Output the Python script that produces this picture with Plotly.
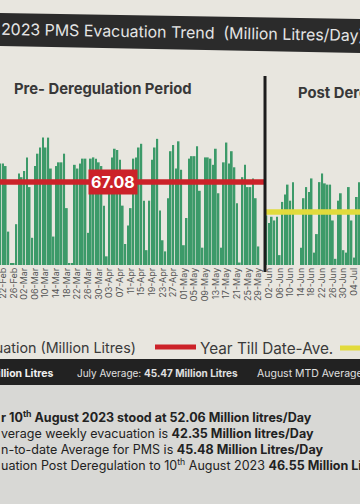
import plotly.graph_objects as go
import pandas as pd

W, H = 360, 504
PLOT_TOP, PLOT_BOT = 77, 265

# ---------------- data ----------------
start_date = "2023-02-21"
daily_evacuation = [
    82, 82, 80, 27, 1, 1, 33, 74, 71, 76, 87, 63, 22, 80, 90, 95, 103, 95, 103, 78,
    23, 80, 83, 83, 90, 46, 1, 1, 81, 78, 82, 86, 86, 26,
    86, 87, 86, 83, 80, 48, 7, 75, 87, 94, 93, 85, 48, 17, 32, 46, 86, 87, 95, 98,
    52, 12, 52, 85, 95, 102, 44, 20, 11, 54, 92, 97, 78, 100,
    77, 16, 38, 86, 88, 88, 96, 60, 14, 87, 87, 86, 81, 94, 58, 14, 83, 99, 82, 92,
    79, 50, 2, 71, 81, 63, 63, 70, 54, 15, 0, 0, 40, 34,
    39, 36, 39, 8, 51, 57, 65, 52, 67, 0, 0, 14, 54, 63, 59, 70, 10, 25, 67, 74,
    66, 65, 65, 36, 5, 52, 58, 12, 10, 63, 36, 6, 55, 67,
]
dates = pd.date_range(start_date, periods=len(daily_evacuation), freq="D")

ytd_avg = 67.08
ytd_label = "67.08"
post_avg = 42.8
deregulation_date = "2023-05-31 12:00"
x_start = "2023-02-20 21:00"
x_end = "2023-07-06 05:00"
label_date = "2023-04-04 08:00"
tick_start = "2023-02-22"

title_text = "2023 PMS Evacuation Trend  (Million Litres/Day)"
pre_text = "Pre- Deregulation Period"
post_text = "Post Deregulation Period"
legend_bar_text = "Evacuation (Million Litres)"
legend_red_text = "Year Till Date-Ave."
band_texts = ["<b>Million Litres</b>", "July Average: <b>45.47 Million Litres</b>", "August MTD Average:"]
note_lines = [
    "<b>r 10<sup>th</sup> August 2023 stood at 52.06 Million litres/Day</b>",
    "verage weekly evacuation is <b>42.35 Million litres/Day</b>",
    "n-to-date Average for PMS is <b>45.48 Million Litres/Day</b>",
    "uation Post Deregulation to 10<sup>th</sup> August 2023 <b>46.55 Million Litres/Day</b>",
]

GREEN = "#3c9a69"
RED = "#cc2229"
YELLOW = "#e2db3c"
FONT = "Inter"


def px(x):
    return x / W


def py(y):
    return (PLOT_BOT - y) / (PLOT_BOT - PLOT_TOP)


fig = go.Figure()
fig.add_bar(x=dates, y=daily_evacuation, marker_color=GREEN, marker_line_width=0,
            hoverinfo="skip")
fig.add_scatter(x=[x_start, deregulation_date], y=[ytd_avg, ytd_avg], mode="lines",
                line=dict(color=RED, width=5.5), hoverinfo="skip")
fig.add_scatter(x=[deregulation_date, x_end], y=[post_avg, post_avg], mode="lines",
                line=dict(color=YELLOW, width=5.5), hoverinfo="skip")

shapes = [
    dict(type="rect", xref="paper", yref="paper", x0=0, x1=1, y0=py(H + 5), y1=py(384),
         fillcolor="#d8d8d5", line_width=0, layer="below"),
    dict(type="path", xref="paper", yref="paper",
         path=f"M 0 {py(13)} L 1 {py(19)} L 1 {py(53)} L 0 {py(46)} Z",
         fillcolor="#2b2b2b", line_width=0, layer="below"),
    dict(type="line", xref="x", yref="paper", x0=deregulation_date, x1=deregulation_date,
         y0=py(272), y1=py(76), line=dict(color="#1c1c1c", width=3)),
    dict(type="rect", xref="paper", yref="paper", x0=0, x1=1, y0=py(385), y1=py(359),
         fillcolor="#222222", line_width=0, layer="below"),
    dict(type="line", xref="paper", yref="paper", x0=px(155), x1=px(196), y0=py(347), y1=py(347),
         line=dict(color=RED, width=5)),
    dict(type="line", xref="paper", yref="paper", x0=px(340), x1=px(365), y0=py(348), y1=py(348),
         line=dict(color=YELLOW, width=5)),
]

ann = [
    dict(text=title_text, x=px(-1), y=py(32), xanchor="left", yanchor="middle",
         font=dict(size=15.9, color="#e4e4e4", family=FONT), textangle=1),
    dict(text=f"<b>{pre_text}</b>", x=px(103), y=py(89), xanchor="center", yanchor="middle",
         font=dict(size=14.8, color="#383838", family=FONT)),
    dict(text=f"<b>{post_text}</b>", x=px(296), y=py(93), xanchor="left", yanchor="middle",
         font=dict(size=14.8, color="#383838", family=FONT)),
    dict(text=f"<b>{ytd_label}</b>", xref="x", yref="y", x=label_date, y=ytd_avg,
         xanchor="center", yanchor="middle", bgcolor=RED, borderpad=2,
         font=dict(size=16, color="white", family=FONT)),
    dict(text=legend_bar_text, x=px(138), y=py(347), xanchor="right", yanchor="middle",
         font=dict(size=14.3, color="#3a3a3a", family=FONT)),
    dict(text=legend_red_text, x=px(198), y=py(348), xanchor="left", yanchor="middle",
         font=dict(size=15.3, color="#3a3a3a", family=FONT)),
    dict(text=band_texts[0], x=px(56), y=py(373), xanchor="right", yanchor="middle",
         font=dict(size=10.5, color="#f0f0f0", family=FONT)),
    dict(text=band_texts[1], x=px(75), y=py(373), xanchor="left", yanchor="middle",
         font=dict(size=10, color="#e0e0e0", family=FONT)),
    dict(text=band_texts[2], x=px(255), y=py(373), xanchor="left", yanchor="middle",
         font=dict(size=10.5, color="#e0e0e0", family=FONT)),
]
for line, yy in zip(note_lines, [417, 433, 449, 465]):
    ann.append(dict(text=line, x=px(-1), y=py(yy), xanchor="left", yanchor="middle",
                    font=dict(size=12.5, color="#222222", family=FONT)))
for a in ann:
    a.setdefault("xref", "paper")
    a.setdefault("yref", "paper")
    a["showarrow"] = False

fig.update_layout(
    width=W, height=H,
    margin=dict(l=0, r=0, t=PLOT_TOP, b=H - PLOT_BOT),
    paper_bgcolor="#e8e6df", plot_bgcolor="rgba(0,0,0,0)",
    showlegend=False, bargap=0.33,
    shapes=shapes, annotations=ann,
    xaxis=dict(type="date", range=[x_start, x_end], tick0=tick_start, dtick=4 * 86400000,
               tickformat="%d-%b", tickangle=-90, ticks="", showgrid=False, zeroline=False,
               showline=False, ticklabeloverflow="allow", automargin=False,
               tickfont=dict(size=9, color="#555555", family=FONT)),
    yaxis=dict(range=[0, 152], visible=False),
    font=dict(family=FONT),
)

fig.write_html("out.html", config={"displayModeBar": False},
               post_script="document.body.style.margin='0';document.body.style.background='#d8d8d5';")
